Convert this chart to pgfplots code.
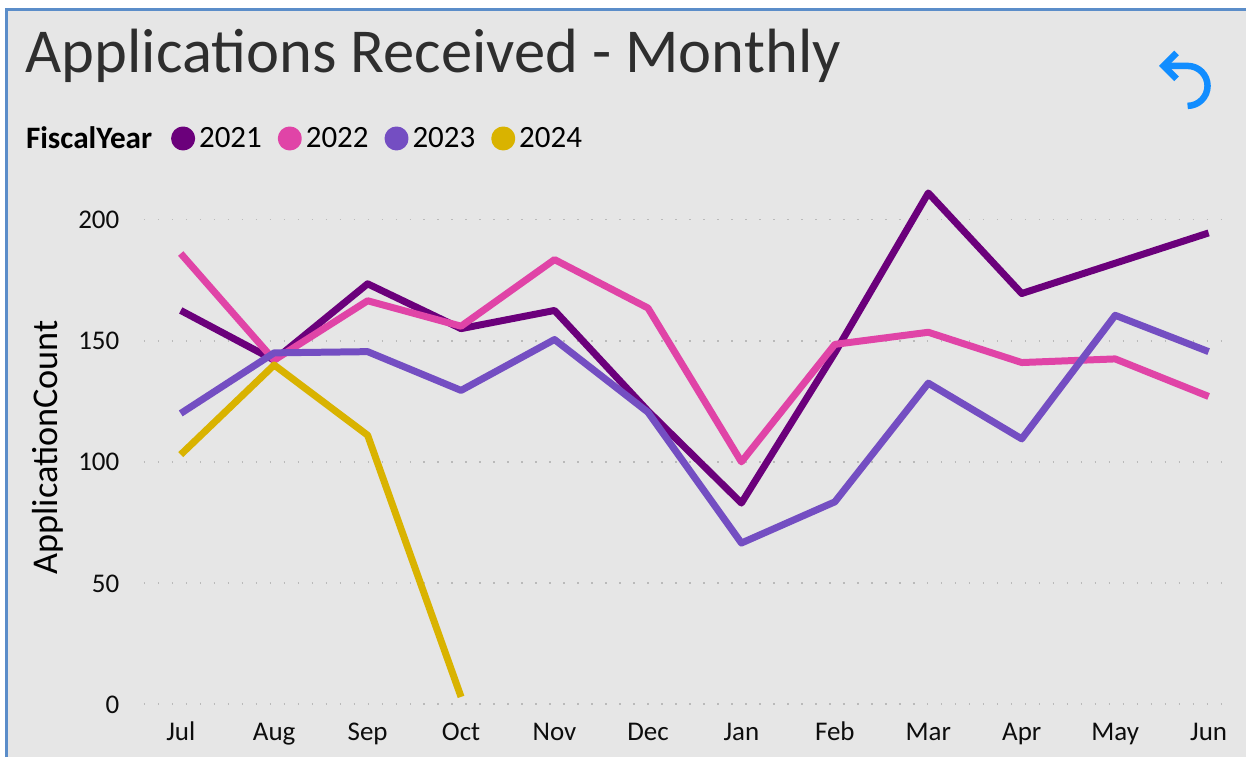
\documentclass[border=0pt]{standalone}
\usepackage{pgfplots}
\pgfplotsset{compat=1.18}
\usepackage{fontspec}
\setmainfont{Carlito}
\definecolor{c21}{HTML}{6B007B}
\definecolor{c22}{HTML}{E044A7}
\definecolor{c23}{HTML}{744EC2}
\definecolor{c24}{HTML}{D9B300}
\definecolor{bgc}{HTML}{E6E6E6}
\definecolor{bord}{HTML}{5B8DC9}
\definecolor{undo}{HTML}{118DFF}
\begin{document}
\begin{tikzpicture}[x=1pt,y=1pt]
\path[fill=white] (0,0) rectangle (1247,758);
\fill[bgc] (6.5,0) rectangle (1247,748);
\draw[bord,line width=3pt] (6.5,0) -- (6.5,748) -- (1247,748);
\node[anchor=base west,inner sep=0pt,text=black!82] at (25.5,685) {\fontsize{62.6}{66}\selectfont Applications Received - Monthly};
\draw[undo,line width=6.5pt,line join=miter] (1178,705) -- (1165,692) -- (1178,679);
\draw[undo,line width=6.5pt] (1165,692) -- (1189,692) arc[start angle=90,end angle=-90,radius=20];
\begin{axis}[
  at={(144pt,53pt)},anchor=south west,
  scale only axis,width=1082pt,height=521.5pt,
  xmin=-0.395,xmax=11.17,ymin=0,ymax=215,
  axis line style={draw=none},
  clip=false,
  xtick={0,...,11},
  xticklabels={Jul,Aug,Sep,Oct,Nov,Dec,Jan,Feb,Mar,Apr,May,Jun},
  ytick={0,50,100,150,200},
  major tick length=0pt,
  tick style={draw=none},
  ymajorgrids=true,
  grid style={draw=black!27,line width=1.6pt,dash pattern=on 1.6pt off 12.4pt},
  /pgf/number format/assume math mode=true,
  ticklabel style={font=\fontsize{27}{30}\selectfont,text=black!95},
  typeset ticklabels with strut,
  xticklabel style={yshift=-12pt},
  yticklabel style={xshift=-21pt,yshift=-3pt},
  ylabel={ApplicationCount},
  ylabel style={font=\fontsize{36.3}{40}\selectfont,text=black,at={(axis description cs:-0.0885,0.493)},anchor=center},
  every axis plot/.append style={line width=7pt,line join=round,no markers},
  legend columns=5,
  legend image code/.code={\fill[#1] (0pt,0pt) circle (8.5pt);},
  legend style={at={(axis description cs:-0.1127,1.086)},anchor=west,draw=none,fill=none,inner sep=0pt,outer sep=0pt,
    font=\fontsize{31}{33}\selectfont,
    /tikz/every even column/.style={column sep=14pt},
    /tikz/every odd column/.style={column sep=2pt},
  },
]
\addlegendimage{legend image code/.code={}}
\addlegendentry{{\fontsize{31.2}{33}\selectfont\textbf{FiscalYear}}\hspace*{3pt}}
\addplot[c21] coordinates {(0,162.5)(1,142)(2,173.5)(3,155)(4,162.5)(5,121)(6,83)(7,145)(8,211)(9,169.5)(10,182)(11,194.5)};
\addlegendentry{2021}
\addplot[c22] coordinates {(0,186)(1,142)(2,166.5)(3,156)(4,183.5)(5,163.5)(6,100)(7,148.5)(8,153.5)(9,141)(10,142.5)(11,127)};
\addlegendentry{2022}
\addplot[c23] coordinates {(0,120)(1,145)(2,145.5)(3,129.5)(4,150.5)(5,120.5)(6,66.5)(7,83.5)(8,132.5)(9,109.5)(10,160.5)(11,145.5)};
\addlegendentry{2023}
\addplot[c24] coordinates {(0,103)(1,140)(2,111)(3,3)};
\addlegendentry{2024}
\end{axis}
\end{tikzpicture}
\end{document}
